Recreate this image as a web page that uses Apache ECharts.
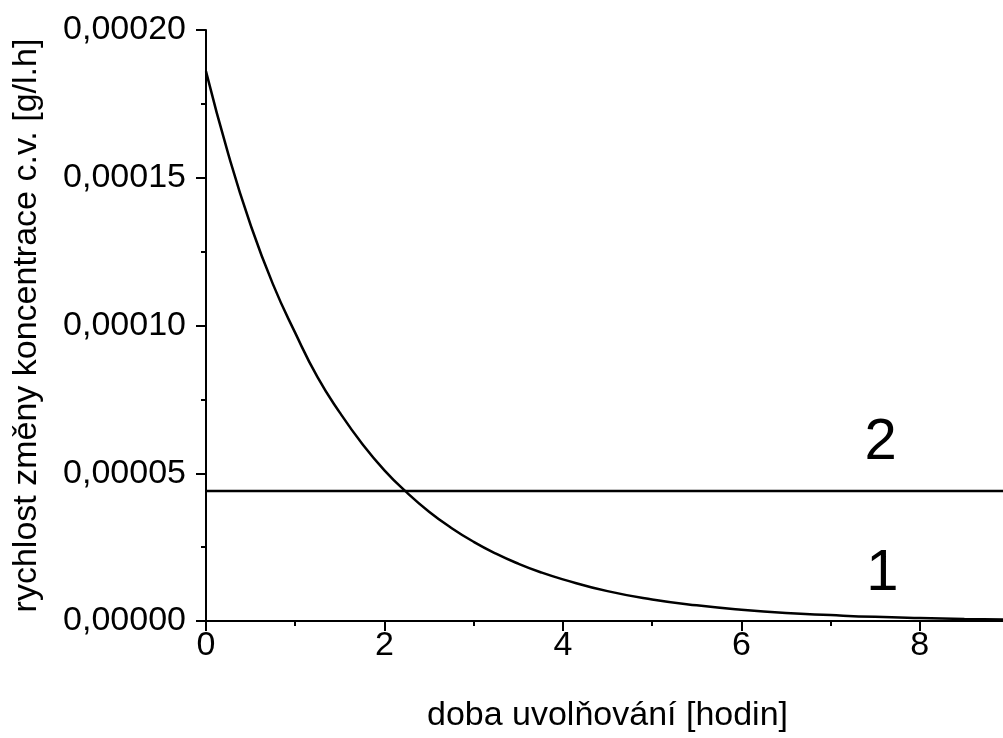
<!DOCTYPE html>
<html lang="cs">
<head>
    <meta charset="UTF-8">
    <title>rychlost změny koncentrace</title>
    <script src="https://cdn.jsdelivr.net/npm/echarts@6/dist/echarts.min.js"></script>
</head>
<body style="margin:0;background:#fff">
<div id="main" style="width:1003px;height:738px;"></div>
<script>
    // curve 1
    const timeHours = [0, 0.25, 0.5, 0.75, 1, 1.25, 1.5, 1.75, 2, 2.25, 2.5, 2.75, 3, 3.25, 3.5, 3.75, 4, 4.5, 5, 5.5, 6, 6.5, 7, 7.5, 8, 8.5, 9];
    const rate1 = [0.000186, 0.000158, 0.000134, 0.000114, 0.0000975, 0.0000825, 0.0000705, 0.0000600, 0.0000510, 0.0000435,
        0.0000370, 0.0000315, 0.0000268, 0.0000228, 0.0000194, 0.0000165, 0.0000141, 0.0000101, 0.0000073, 0.0000053,
        0.0000038, 0.0000027, 0.0000020, 0.0000014, 0.0000010, 0.0000007, 0.0000005];
    // line 2 - constant rate
    const time2 = [0, 9];
    const rate2 = [0.000044, 0.000044];
    // curve labels
    const curveNames = ['1', '2'];
    const namePos1 = [7.58, 0.0000159];
    const namePos2 = [7.56, 0.0000602];

    const font = 'Liberation Sans, Arial, sans-serif';
    const myChart = echarts.init(document.getElementById('main'));

    function pairs(xs, ys) {
        return xs.map(function (x, i) { return [x, ys[i]]; });
    }

    function nameMark(text, pos) {
        return {
            symbol: 'circle',
            symbolSize: 1,
            itemStyle: {color: 'rgba(0,0,0,0)'},
            label: {show: true, position: 'inside', formatter: text, fontFamily: font, fontSize: 58, color: '#000'},
            data: [{coord: pos}]
        };
    }

    const option = {
        animation: false,
        grid: {left: 206, right: -6, top: 30, bottom: 117, outerBoundsMode: 'none', containLabel: false},
        xAxis: [{
            type: 'value',
            min: 0, max: 9, interval: 2,
            name: 'doba uvolňování [hodin]',
            nameLocation: 'middle',
            nameGap: 78,
            nameTextStyle: {fontFamily: font, fontSize: 34, color: '#000'},
            axisLine: {show: true, onZero: false, lineStyle: {color: '#000', width: 2}},
            axisTick: {show: true, inside: false, length: 10, lineStyle: {color: '#000', width: 2}},
            axisLabel: {
                fontFamily: font, fontSize: 34, color: '#000', margin: 8,
                formatter: function (v) { return v === 9 ? '' : String(v); }
            },
            splitLine: {show: false}
        }, {
            type: 'value',
            min: 0, max: 9, interval: 1,
            position: 'bottom',
            axisLine: {show: false},
            axisTick: {show: true, inside: false, length: 5, lineStyle: {color: '#000', width: 2}},
            axisLabel: {show: false},
            splitLine: {show: false}
        }],
        yAxis: {
            type: 'value',
            min: 0, max: 0.0002, interval: 0.00005,
            name: 'rychlost změny koncentrace c.v. [g/l.h]',
            nameLocation: 'middle',
            nameGap: 162,
            nameTextStyle: {fontFamily: font, fontSize: 34, color: '#000'},
            axisLine: {show: true, lineStyle: {color: '#000', width: 2}},
            axisTick: {show: true, inside: false, length: 10, lineStyle: {color: '#000', width: 2}},
            minorTick: {show: true, splitNumber: 2, length: 5, lineStyle: {color: '#000', width: 2}},
            axisLabel: {
                fontFamily: font, fontSize: 34, color: '#000', margin: 20,
                formatter: function (v) { return v.toFixed(5).replace('.', ','); }
            },
            splitLine: {show: false}
        },
        series: [{
            name: curveNames[0],
            type: 'line',
            smooth: true,
            showSymbol: false,
            lineStyle: {color: '#000', width: 2.5},
            data: pairs(timeHours, rate1),
            markPoint: nameMark(curveNames[0], namePos1)
        }, {
            name: curveNames[1],
            type: 'line',
            showSymbol: false,
            lineStyle: {color: '#000', width: 2.5},
            data: pairs(time2, rate2),
            markPoint: nameMark(curveNames[1], namePos2)
        }]
    };
    myChart.setOption(option);
</script>
</body>
</html>
